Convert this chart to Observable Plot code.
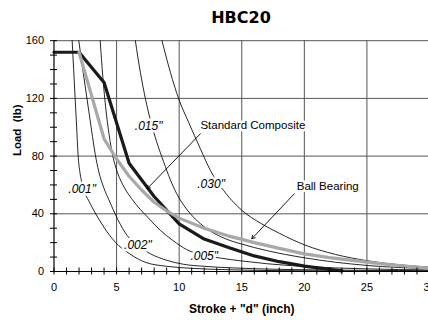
<!DOCTYPE html>
<html><head><meta charset="utf-8">
<script src="https://cdn.jsdelivr.net/npm/d3@7"></script>
<script src="https://cdn.jsdelivr.net/npm/@observablehq/plot@0.6"></script>
<style>
body{margin:0;background:#fff;width:428px;height:320px;overflow:hidden;}
#title{height:26px;width:428px;position:relative;}
#title span{position:absolute;left:241px;top:9.5px;transform:translateX(-50%);font-family:"DejaVu Sans",sans-serif;font-weight:bold;font-size:16px;line-height:16px;white-space:nowrap;}
</style>
</head><body>
<div id="title"><span>HBC20</span></div>
<div id="chart"></div>
<script>
// Thick curves
const compositeX = [0, 2, 4, 6, 8, 10, 12, 14, 16, 18, 20, 22, 23];
const compositeY = [152, 152, 131, 75, 52, 33, 22.5, 16.5, 10.8, 6.8, 3.7, 1.5, 0.4];
const ballX = [2, 4, 5, 6, 7, 8, 9, 10, 12, 14, 16, 18, 20, 22, 24, 26, 28, 30];
const ballY = [152, 92, 78, 66, 56.5, 48, 42, 37, 30, 24.5, 20, 16, 12.2, 9.6, 7.5, 5.5, 3.8, 2.3];

// Thin deflection curves
const c001X = [1.45, 1.57, 1.69, 1.81, 1.93, 2.05, 2.19, 2.4, 2.78, 3.2, 3.57, 4.2, 4.9, 6.0, 7.3, 9.0, 11, 14, 18, 24, 30];
const c001Y = [160, 140, 120, 100, 80, 70, 63, 56, 49, 42, 36.5, 28, 20.3, 12.5, 6.4, 3.6, 2.2, 1.2, 0.6, 0.3, 0.15];
const c002X = [1.98, 2.3, 2.65, 3.0, 3.3, 3.57, 4.0, 4.37, 5.1, 5.84, 6.7, 7.7, 9.0, 10.35, 12, 14, 17, 21, 25, 30];
const c002Y = [160, 140, 119, 98, 81, 69.5, 57.5, 50, 36, 25, 18, 12.3, 7.8, 5, 3.6, 2.6, 1.7, 1.1, 0.8, 0.5];
const c005X = [3.69, 3.9, 4.15, 4.4, 4.7, 5.1, 5.6, 6.2, 6.9, 7.5, 8.5, 9.5, 10.6, 12.0, 13.3, 15, 17, 20, 25, 30];
const c005Y = [160, 135, 112, 95, 80, 68, 58.5, 50.5, 43, 37.5, 28.5, 21.5, 15.2, 11.3, 9.3, 7.3, 5.4, 3.5, 1.8, 1.1];
const c015X = [6.5, 6.9, 7.3, 7.7, 8.2, 8.76, 9.3, 9.8, 10.4, 10.9, 12, 13.9, 15, 17, 20, 25, 30];
const c015Y = [160, 138, 120, 105, 90, 76, 63.5, 54, 45.5, 40, 31, 22, 19, 14.5, 9.5, 4.2, 2];
const c030X = [8.63, 9.3, 9.95, 10.75, 11.7, 12.5, 13.7, 15, 16.6, 18, 20, 22.5, 25, 30];
const c030Y = [160, 138, 120, 103.5, 85, 70, 54.5, 42.5, 33, 26.5, 18.5, 11.8, 7.5, 3];

// Curve labels
const isoLabels = ['.001"', '.002"', '.005"', '.015"', '.030"'];
const isoLabelX = [2.25, 6.7, 12.0, 7.56, 12.55];
const isoLabelY = [56.8, 18, 10.3, 100.5, 60.8];

// Series labels and arrows
const compositeLabel = "Standard Composite";
const compositeLabelX = 11.7;
const compositeLabelY = 101.2;
const ballLabel = "Ball Bearing";
const ballLabelX = 21.87;
const ballLabelY = 59.4;
const arrowFromX = [11.7, 19.2];
const arrowFromY = [95.5, 53.9];
const arrowToX = [7.43, 15.8];
const arrowToY = [57.3, 22.7];

// Axes
const xTicks = [0, 5, 10, 15, 20, 25, 30];
const yTicks = [0, 40, 80, 120, 160];
const xGrid = [5, 10, 15, 20, 25];
const yGrid = [40, 80, 120, 160];
const xMinor = d3.range(0, 31, 1);
const yMinor = d3.range(0, 161, 10);
const xTitle = 'Stroke + "d" (inch)';
const yTitle = 'Load  (lb)';

const rows = (name, xs, ys) => xs.map((x, i) => ({curve: name, x, y: ys[i]}));
const isoRows = [
  ...rows(".001", c001X, c001Y), ...rows(".002", c002X, c002Y), ...rows(".005", c005X, c005Y),
  ...rows(".015", c015X, c015Y), ...rows(".030", c030X, c030Y)
];
const compositeRows = rows("composite", compositeX, compositeY);
const ballRows = rows("ball", ballX, ballY);
const isoLabelRows = isoLabels.map((t, i) => ({t, x: isoLabelX[i], y: isoLabelY[i]}));
const arrowRows = arrowFromX.map((x, i) => ({x1: x, y1: arrowFromY[i], x2: arrowToX[i], y2: arrowToY[i]}));

const halo = {fill: "black", stroke: "white", strokeWidth: 5, paintOrder: "stroke"};

const chart = Plot.plot({
  width: 428, height: 294,
  marginLeft: 53.5, marginRight: -1, marginTop: 14.2, marginBottom: 49,
  x: {domain: [0, 30], range: [53.5, 429]},
  y: {domain: [0, 160], range: [245, 14.2]},
  style: {fontFamily: "'Liberation Sans', Arial, sans-serif", fontSize: "11px", background: "white", color: "black", overflow: "hidden"},
  marks: [
    Plot.gridX({ticks: xGrid, stroke: "#555", strokeOpacity: 1, strokeWidth: 1}),
    Plot.gridY({ticks: yGrid, stroke: "#555", strokeOpacity: 1, strokeWidth: 1}),
    Plot.line(isoRows, {x: "x", y: "y", z: "curve", curve: "monotone-x", stroke: "black", strokeWidth: 0.85}),
    Plot.line(compositeRows, {x: "x", y: "y", stroke: "#1a1a1a", strokeWidth: 3.2}),
    Plot.line(ballRows, {x: "x", y: "y", stroke: "#a8a8a8", strokeWidth: 3.2}),
    Plot.ruleX([0], {stroke: "black", strokeWidth: 1.2}),
    Plot.ruleY([0], {stroke: "black", strokeWidth: 1.2}),
    Plot.axisX({ticks: xMinor, tickSize: 7, dy: -3.5, text: null, label: null, strokeWidth: 1}),
    Plot.axisX({ticks: xTicks, tickSize: 0, tickPadding: 12, label: null, fontSize: 11}),
    Plot.axisY({ticks: yMinor, tickSize: 7, dx: 3.5, text: null, label: null, strokeWidth: 1}),
    Plot.axisY({ticks: yTicks, tickSize: 0, tickPadding: 10, label: null, fontSize: 11}),
    Plot.text(isoLabelRows, {x: "x", y: "y", text: "t", fontStyle: "italic", fontSize: 12, ...halo}),
    Plot.text([compositeLabel], {x: compositeLabelX, y: compositeLabelY, textAnchor: "start", fontSize: 11.5, ...halo}),
    Plot.text([ballLabel], {x: ballLabelX, y: ballLabelY, textAnchor: "middle", fontSize: 11.5, ...halo}),
    Plot.arrow(arrowRows, {x1: "x1", y1: "y1", x2: "x2", y2: "y2", stroke: "black", strokeWidth: 0.9, headLength: 6}),
    Plot.text([yTitle], {frameAnchor: "left", dx: -37, rotate: -90, fontWeight: "bold", fontSize: 11.5}),
    Plot.text([xTitle], {frameAnchor: "bottom", dy: 41, fontWeight: "bold", fontSize: 12})
  ]
});
document.getElementById("chart").appendChild(chart);
</script>
</body></html>
